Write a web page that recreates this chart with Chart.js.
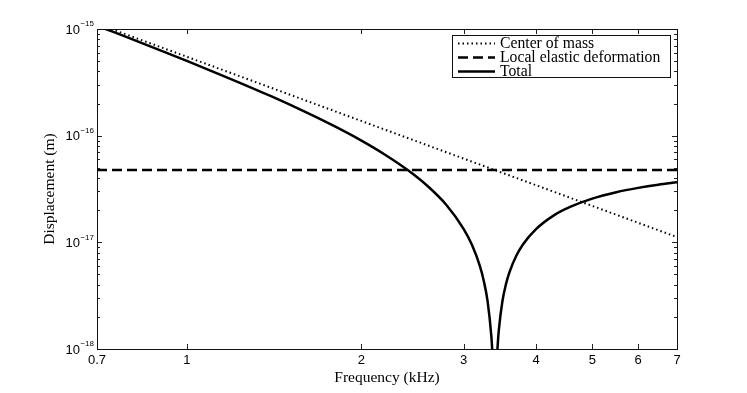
<!DOCTYPE html>
<html>
<head>
    <script src="https://cdn.jsdelivr.net/npm/chart.js@4/dist/chart.umd.min.js"></script>
    <style>
        body { margin: 0; background: #fff; }
    </style>
</head>
<body>
    <canvas id="chart" width="747" height="393"></canvas>
<script>
    // values (frequency in kHz, displacement in m)
    var seriesLabels = ['Center of mass', 'Local elastic deformation', 'Total'];

    var freqCom = [0.741, 7];
    var dispCom = [1.0e-15, 1.12e-17];

    var freqElastic = [0.7, 7];
    var dispElastic = [4.77e-17, 4.77e-17];

    var freqTotal = [0.7245, 0.8, 0.9, 1.0, 1.2, 1.4, 1.6, 1.8, 2.0, 2.2, 2.4, 2.6, 2.8, 3.0, 3.1, 3.2, 3.25, 3.3,
        3.35, 3.36, 3.37, 3.38, 3.39, 3.3956, 3.4, 3.41, 3.42, 3.43, 3.44, 3.45, 3.5, 3.55, 3.6, 3.7, 3.8,
        4.0, 4.3, 4.6, 5.0, 5.5, 6.0, 6.5, 7.0];
    var dispTotal = [1.0e-15, 8.12e-16, 6.31e-16, 5.02e-16, 3.34e-16, 2.33e-16, 1.67e-16, 1.22e-16, 8.98e-17,
        6.59e-17, 4.78e-17, 3.37e-17, 2.25e-17, 1.34e-17, 9.53e-18, 6.01e-18, 4.37e-18, 2.81e-18,
        1.31e-18, 1.02e-18, 7.3e-19, 4.4e-19, 1.6e-19, 5e-21, 1.2e-19, 4.0e-19, 6.8e-19, 9.5e-19, 1.22e-18,
        1.49e-18, 2.80e-18, 4.06e-18, 5.26e-18, 7.52e-18, 9.61e-18,
        1.33e-17, 1.80e-17, 2.17e-17, 2.57e-17, 2.95e-17, 3.24e-17, 3.47e-17, 3.65e-17];

    var xTicks = [0.7, 1, 2, 3, 4, 5, 6, 7];
    var yTicks = [1e-18, 1e-17, 1e-16, 1e-15];
    var yExponents = ['\u221218', '\u221217', '\u221216', '\u221215'];

    var serif = '"Liberation Serif", "Times New Roman", serif';
    var sans = '"Liberation Sans", Arial, sans-serif';

    function pairs(xs, ys) {
        return xs.map(function (x, i) { return { x: x, y: ys[i] }; });
    }

    // box, inward ticks, tick labels, axis titles and legend
    var decorations = {
        id: 'decorations',
        afterDraw: function (chart) {
            var ctx = chart.ctx;
            var a = chart.chartArea;
            var xs = chart.scales.x, ys = chart.scales.y;
            ctx.save();

            // ticks
            ctx.strokeStyle = '#222';
            ctx.lineWidth = 1;
            ctx.beginPath();
            for (var d = -18; d <= -15; d++) {
                for (var m = 1; m <= 9; m++) {
                    var v = m * Math.pow(10, d);
                    if (v > 1.0001e-15) break;
                    var py = Math.round(ys.getPixelForValue(v)) + 0.5;
                    var len = m === 1 ? 5 : 3;
                    ctx.moveTo(a.left, py); ctx.lineTo(a.left + len, py);
                    ctx.moveTo(a.right, py); ctx.lineTo(a.right - len, py);
                }
            }
            xTicks.forEach(function (t) {
                var px = Math.round(xs.getPixelForValue(t)) + 0.5;
                ctx.moveTo(px, a.bottom); ctx.lineTo(px, a.bottom - 5);
                ctx.moveTo(px, a.top); ctx.lineTo(px, a.top + 5);
            });
            ctx.stroke();

            // box
            ctx.strokeStyle = '#111';
            ctx.strokeRect(a.left + 0.5, a.top + 0.5, a.right - a.left, a.bottom - a.top);

            // x tick labels
            ctx.fillStyle = '#000';
            ctx.textBaseline = 'middle';
            ctx.textAlign = 'center';
            ctx.font = '13px ' + sans;
            xTicks.forEach(function (t) {
                ctx.fillText(String(t), xs.getPixelForValue(t), 360);
            });

            // y tick labels
            yTicks.forEach(function (t, i) {
                var py = ys.getPixelForValue(t);
                ctx.font = '8px ' + sans;
                ctx.textAlign = 'left';
                var ew = ctx.measureText(yExponents[i]).width;
                var ex = a.left - 3 - ew;
                ctx.fillText(yExponents[i], ex, py - 5);
                ctx.font = '13px ' + sans;
                ctx.textAlign = 'right';
                ctx.fillText('10', ex - 0.5, py + 1);
            });

            // axis titles
            ctx.font = '15.5px ' + serif;
            ctx.textAlign = 'center';
            ctx.fillText('Frequency (kHz)', (a.left + a.right) / 2, 378);
            ctx.save();
            ctx.translate(50, (a.top + a.bottom) / 2);
            ctx.rotate(-Math.PI / 2);
            ctx.fillText('Displacement (m)', 0, 0);
            ctx.restore();

            // legend
            var lx = 452, ly = 35, lw = 218, lh = 42;
            ctx.fillStyle = '#fff';
            ctx.fillRect(lx, ly, lw, lh);
            ctx.strokeStyle = '#111';
            ctx.lineWidth = 1;
            ctx.strokeRect(lx + 0.5, ly + 0.5, lw, lh);
            chart.data.datasets.forEach(function (ds, i) {
                var yy = ly + 8.5 + i * 14;
                ctx.strokeStyle = ds.borderColor;
                ctx.lineWidth = ds.borderWidth;
                ctx.setLineDash(ds.borderDash || []);
                ctx.beginPath();
                ctx.moveTo(lx + 6, yy);
                ctx.lineTo(lx + 43, yy);
                ctx.stroke();
                ctx.setLineDash([]);
                ctx.fillStyle = '#000';
                ctx.font = '15.7px ' + serif;
                ctx.textAlign = 'left';
                ctx.fillText(ds.label, lx + 48, yy);
            });

            ctx.restore();
        }
    };

    new Chart('chart', {
        type: 'line',
        data: {
            datasets: [{
                label: seriesLabels[0],
                data: pairs(freqCom, dispCom),
                borderColor: '#000',
                borderWidth: 2,
                borderDash: [1.5, 3],
                pointRadius: 0
            }, {
                label: seriesLabels[1],
                data: pairs(freqElastic, dispElastic),
                borderColor: '#000',
                borderWidth: 2.5,
                borderDash: [10, 5],
                pointRadius: 0
            }, {
                label: seriesLabels[2],
                data: pairs(freqTotal, dispTotal),
                borderColor: '#000',
                borderWidth: 2.5,
                cubicInterpolationMode: 'monotone',
                pointRadius: 0
            }]
        },
        options: {
            responsive: false,
            animation: false,
            layout: { padding: { left: 97, right: 70, top: 29, bottom: 0 } },
            plugins: {
                legend: { display: false },
                tooltip: { enabled: false }
            },
            scales: {
                x: {
                    type: 'logarithmic',
                    min: 0.7,
                    max: 7,
                    afterFit: function (s) { s.height = 44; },
                    grid: { display: false },
                    border: { display: false },
                    ticks: { display: false }
                },
                y: {
                    type: 'logarithmic',
                    min: 1e-18,
                    max: 1e-15,
                    display: false
                }
            }
        },
        plugins: [decorations]
    });
</script>
</body>
</html>
